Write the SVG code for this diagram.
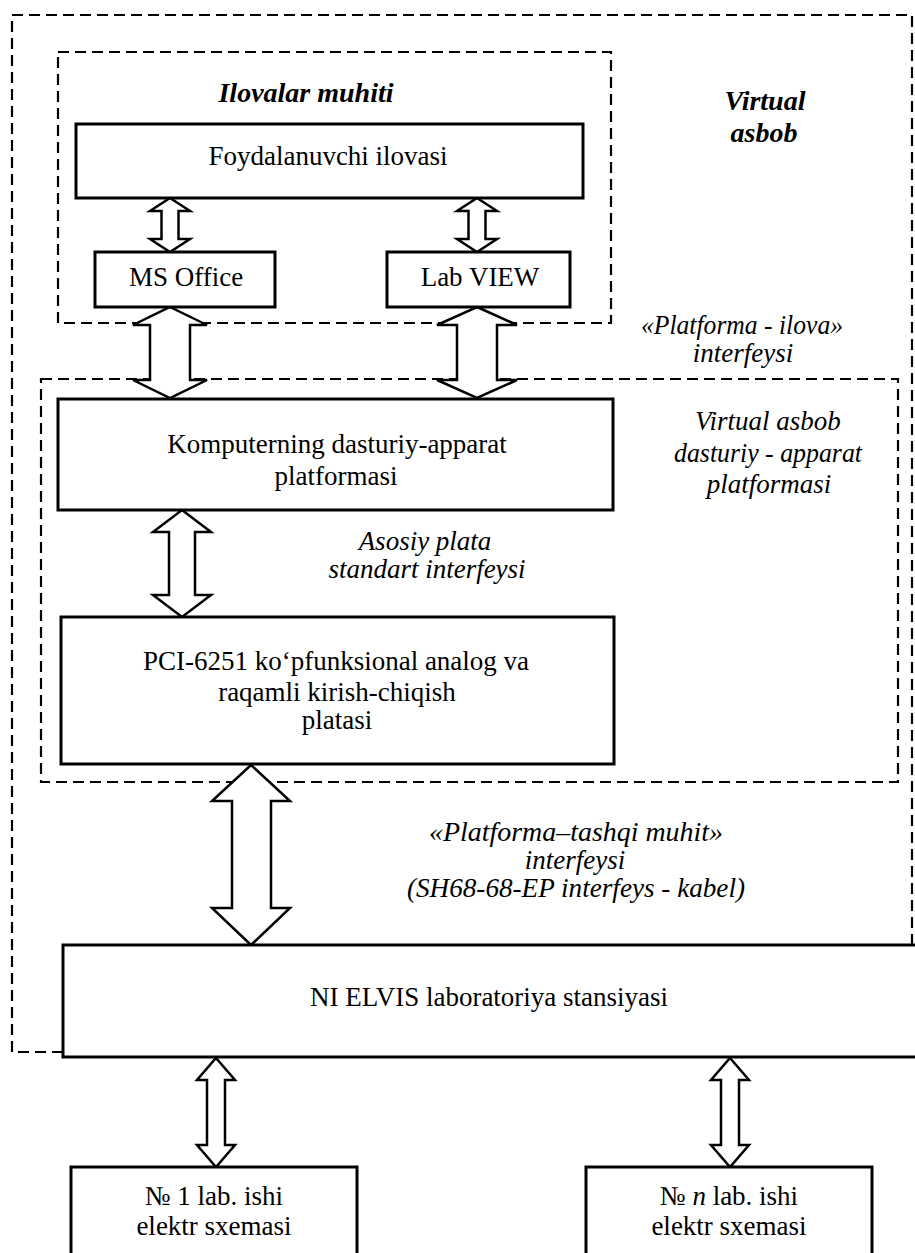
<svg xmlns="http://www.w3.org/2000/svg" width="915" height="1253" viewBox="0 0 915 1253">
<style>
.box{fill:#fff;stroke:#000;stroke-width:3}
.dash{fill:none;stroke:#000;stroke-width:2.2;stroke-dasharray:11 6}
.arr{fill:#fff;stroke:#000;stroke-width:2.5;stroke-linejoin:miter}
.t{font-family:"Liberation Serif","Times New Roman",serif;font-size:27px;fill:#000;text-anchor:middle}
.i{font-family:"Liberation Serif","Times New Roman",serif;font-size:27px;font-style:italic;fill:#000;text-anchor:middle}
.bi{font-family:"Liberation Serif","Times New Roman",serif;font-size:28px;font-style:italic;font-weight:bold;fill:#000;text-anchor:middle}
</style>
<rect width="915" height="1253" fill="#fff"/>
<g id="regions">
<path class="dash" d="M63,1052 H12 V15 H912 V945"/>
<rect class="dash" x="58" y="52" width="553" height="271"/>
<rect class="dash" x="41" y="379" width="857" height="403"/>
</g>
<g id="labels">
<text class="bi" x="306" y="102">Ilovalar muhiti</text>
<text class="bi" x="765" y="110">Virtual</text>
<text class="bi" x="764" y="142">asbob</text>
<text class="i" x="742" y="334" textLength="202" lengthAdjust="spacingAndGlyphs">«Platforma - ilova»</text>
<text class="i" x="743" y="362">interfeysi</text>
<text class="i" x="768" y="430">Virtual asbob</text>
<text class="i" x="768" y="462" textLength="188" lengthAdjust="spacingAndGlyphs">dasturiy - apparat</text>
<text class="i" x="769" y="493">platformasi</text>
<text class="i" x="425" y="550">Asosiy plata</text>
<text class="i" x="427" y="578">standart interfeysi</text>
<text class="i" x="576" y="841" textLength="294" lengthAdjust="spacingAndGlyphs">«Platforma–tashqi muhit»</text>
<text class="i" x="575" y="869">interfeysi</text>
<text class="i" x="576" y="897" textLength="338" lengthAdjust="spacingAndGlyphs">(SH68-68-EP interfeys - kabel)</text>
</g>
<g id="connectors">
<polygon class="arr" points="170,198 190,211 178.5,211 178.5,239 190,239 170,252 150,239 161.5,239 161.5,211 150,211"/>
<polygon class="arr" points="477,198 497,211 485.5,211 485.5,239 497,239 477,252 457,239 468.5,239 468.5,211 457,211"/>
<polygon class="arr" points="170,307 207,325 190,325 190,380 207,380 170,398 133,380 150,380 150,325 133,325"/>
<polygon class="arr" points="477,307 517,325 497,325 497,380 517,380 477,398 437,380 457,380 457,325 437,325"/>
<polygon class="arr" points="182,510 211,532 195,532 195,595 211,595 182,617 153,595 169,595 169,532 153,532"/>
<polygon class="arr" points="251,765 290,801 271,801 271,908 290,908 251,945 212,908 232,908 232,801 212,801"/>
<polygon class="arr" points="216,1058 235,1080 225,1080 225,1145 235,1145 216,1167 197,1145 207,1145 207,1080 197,1080"/>
<polygon class="arr" points="730,1058 749,1080 739,1080 739,1145 749,1145 730,1167 711,1145 721,1145 721,1080 711,1080"/>
</g>
<g id="n-foydalanuvchi">
<rect class="box" x="76" y="124" width="507" height="74"/>
<text class="t" x="328" y="165">Foydalanuvchi ilovasi</text>
</g>
<g id="n-msoffice">
<rect class="box" x="95" y="252" width="180" height="55"/>
<text class="t" x="186" y="286">MS Office</text>
</g>
<g id="n-labview">
<rect class="box" x="387" y="252" width="183" height="55"/>
<text class="t" x="480" y="286">Lab VIEW</text>
</g>
<g id="n-komputer">
<rect class="box" x="58" y="399" width="555" height="111"/>
<text class="t" x="337" y="453">Komputerning dasturiy-apparat</text>
<text class="t" x="336" y="485">platformasi</text>
</g>
<g id="n-pci">
<rect class="box" x="61" y="617" width="553" height="147"/>
<text class="t" x="336" y="670">PCI-6251 ko‘pfunksional analog va</text>
<text class="t" x="337" y="701">raqamli kirish-chiqish</text>
<text class="t" x="337" y="729">platasi</text>
</g>
<g id="n-elvis">
<rect class="box" x="63" y="945" width="870" height="112"/>
<text class="t" x="489" y="1006">NI ELVIS laboratoriya stansiyasi</text>
</g>
<g id="n-lab1">
<rect class="box" x="71" y="1167" width="286" height="100"/>
<text class="t" x="214" y="1205">№ 1 lab. ishi</text>
<text class="t" x="214" y="1235">elektr sxemasi</text>
</g>
<g id="n-labn">
<rect class="box" x="586" y="1167" width="286" height="100"/>
<text class="t" x="729" y="1205">№ <tspan font-style="italic">n</tspan> lab. ishi</text>
<text class="t" x="729" y="1235">elektr sxemasi</text>
</g>
</svg>
